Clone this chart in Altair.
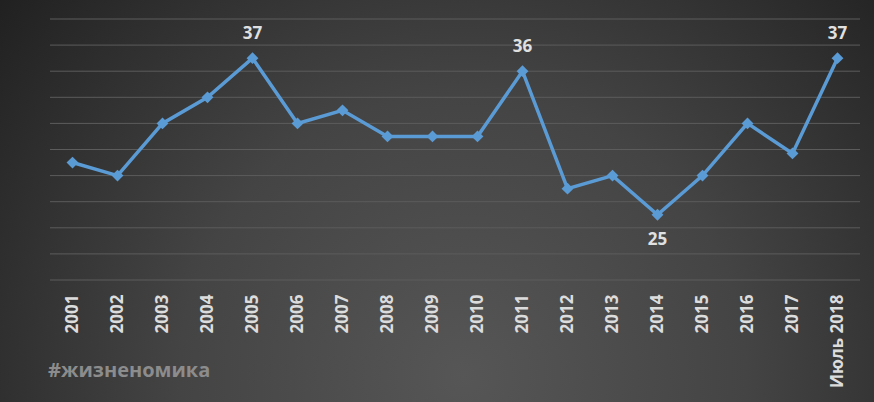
import altair as alt
import pandas as pd

years = ["2001", "2002", "2003", "2004", "2005", "2006", "2007", "2008", "2009",
         "2010", "2011", "2012", "2013", "2014", "2015", "2016", "2017", "Июль 2018"]
values = [29, 28, 32, 34, 37, 32, 33, 31, 31, 31, 36, 27, 28, 25, 28, 32, 29.7, 37]

labels_above = ["2005", "2011", "Июль 2018"]
labels_below = ["2014"]
grid_values = list(range(20, 41, 2))
watermark = "#жизненомика"

df = pd.DataFrame({"year": years, "value": values})
df["label"] = [str(int(round(v))) for v in values]
order = years

W, H = 810, 261
FONT = "Open Sans"

yscale = alt.Scale(domain=[20, 40], nice=False, zero=False)

x_enc = alt.X("year:N", sort=order, scale=alt.Scale(type="point", padding=0.5),
              axis=alt.Axis(title=None, labelAngle=-90, labelColor="#dcdcdc",
                            labelFont=FONT, labelFontSize=17, labelFontWeight="bold",
                            labelPadding=14, ticks=False, domain=False, grid=False,
                            zindex=1))
y_enc = alt.Y("value:Q", scale=yscale, axis=None)

bg = alt.Chart(pd.DataFrame({"a": [0]})).mark_rect(
    fill={"gradient": "radial", "x1": 0.53, "y1": 0.7, "r1": 0,
          "x2": 0.53, "y2": 0.7, "r2": 0.72,
          "stops": [{"offset": 0, "color": "#565656"},
                    {"offset": 0.45, "color": "#444444"},
                    {"offset": 1, "color": "#1d1d1d"}]}
).encode(x=alt.value(-50), x2=alt.value(824), y=alt.value(-19), y2=alt.value(383))

grid = alt.Chart(pd.DataFrame({"g": grid_values})).mark_rule(
    color="#5c5c5c", strokeWidth=1
).encode(y=alt.Y("g:Q", scale=yscale, axis=None), x=alt.value(0), x2=alt.value(W))

base = alt.Chart(df)

line = base.mark_line(color="#5B9BD5", strokeWidth=3.5).encode(x=x_enc, y=y_enc)
pts = base.mark_point(shape="diamond", filled=True, size=140, color="#5B9BD5",
                      opacity=1).encode(x=alt.X("year:N", sort=order), y="value:Q")

txt_above = base.transform_filter(
    alt.FieldOneOfPredicate(field="year", oneOf=labels_above)
).mark_text(font=FONT, fontSize=17, fontWeight="bold", color="#e0e0e0",
            baseline="middle", dy=-24).encode(
    x=alt.X("year:N", sort=order), y="value:Q", text="label:N")

txt_below = base.transform_filter(
    alt.FieldOneOfPredicate(field="year", oneOf=labels_below)
).mark_text(font=FONT, fontSize=17, fontWeight="bold", color="#e0e0e0",
            baseline="middle", dy=25).encode(
    x=alt.X("year:N", sort=order), y="value:Q", text="label:N")

wm = alt.Chart(pd.DataFrame({"t": [watermark]})).mark_text(
    font=FONT, fontSize=20, fontWeight="bold", color="#8c8c8c",
    align="left", baseline="alphabetic"
).encode(x=alt.value(-2), y=alt.value(358), text="t:N")

chart = alt.layer(bg, grid, line, pts, txt_above, txt_below, wm).properties(
    width=W, height=H,
    autosize=alt.AutoSizeParams(type="none"),
    padding={"left": 50, "top": 19, "right": 14, "bottom": 122},
    background="#262626",
).configure_view(stroke=None)

chart.save("out.html", embed_options={"renderer": "svg", "actions": False})
